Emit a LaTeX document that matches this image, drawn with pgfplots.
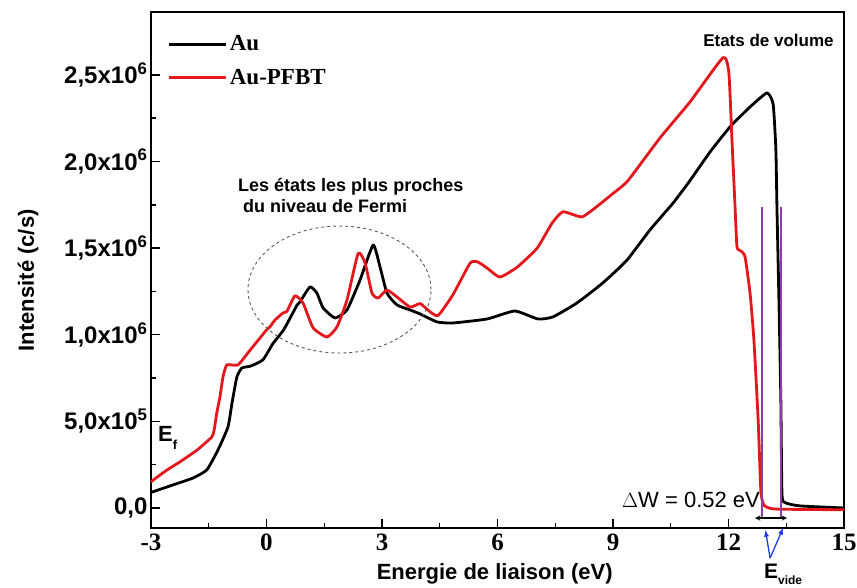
\documentclass[border=0pt]{standalone}
\usepackage{fontspec}
\setmainfont{Liberation Serif}
\newfontfamily\arial{Liberation Sans}
\usepackage{pgfplots}
\pgfplotsset{compat=1.18}

\definecolor{aured}{RGB}{228,24,28}
\definecolor{vidblue}{RGB}{30,60,230}
\definecolor{violetline}{RGB}{140,60,170}

\begin{document}
\begin{tikzpicture}
\begin{axis}[
  scale only axis,
  width=693pt, height=516pt,
  xmin=-3, xmax=15,
  ymin=-0.1155, ymax=2.863,
  clip=false,
  axis line style={line width=1.6pt},
  tick pos=left,
  tick align=inside,
  major tick length=9pt,
  minor tick length=5pt,
  every tick/.style={line width=1.4pt, black},
  xtick={-3,0,3,6,9,12,15},
  xticklabels={-3,0,3,6,9,12,15},
  minor x tick num=1,
  ytick={0,0.5,1,1.5,2,2.5},
  yticklabels={{0,0},{5,0x10\textsuperscript{5}},{1,0x10\textsuperscript{6}},{1,5x10\textsuperscript{6}},{2,0x10\textsuperscript{6}},{2,5x10\textsuperscript{6}}},
  minor y tick num=1,
  xticklabel style={font=\fontsize{25}{25}\selectfont\bfseries, yshift=-2pt},
  yticklabel style={font=\arial\fontsize{24}{24}\selectfont\bfseries},
  xlabel={Energie de liaison (eV)},
  ylabel={Intensité (c/s)},
  xlabel style={at={(axis description cs:0.496,-0.088)}, anchor=center, font=\arial\fontsize{22}{22}\selectfont\bfseries},
  ylabel style={at={(axis description cs:-0.1775,0.48)}, anchor=center, rotate=0, font=\arial\fontsize{22}{22}\selectfont\bfseries},
  legend cell align={left},
  legend style={draw=none, fill=none, at={(axis description cs:0.02,0.962)}, anchor=north west,
    font=\fontsize{23}{23}\selectfont\bfseries, row sep=13pt},
  legend image code/.code={\draw[#1] (0pt,0pt) -- (57pt,0pt);},
  every axis plot/.append style={line width=2.8pt, line join=round},
]
% Au
\addplot[black, smooth, tension=0.3] table {
-3.00 0.090
-2.43 0.133
-1.91 0.173
-1.55 0.220
-1.26 0.335
-1.00 0.468
-0.90 0.600
-0.77 0.756
-0.64 0.808
-0.40 0.820
-0.09 0.856
0.17 0.950
0.45 1.030
0.79 1.170
0.87 1.190
1.13 1.276
1.31 1.240
1.47 1.155
1.78 1.097
2.09 1.143
2.43 1.316
2.77 1.518
2.95 1.390
3.13 1.240
3.39 1.172
3.73 1.143
3.99 1.120
4.43 1.074
4.84 1.068
5.73 1.091
6.45 1.137
7.05 1.091
7.44 1.103
8.06 1.183
8.74 1.300
9.36 1.430
9.96 1.605
10.56 1.760
11.00 1.890
11.52 2.055
12.04 2.200
12.56 2.315
13.00 2.396
13.16 2.330
13.23 2.070
13.26 1.720
13.31 1.200
13.36 0.620
13.39 0.075
13.49 0.029
13.86 0.012
15.00 0.000
};
\addlegendentry{Au}
% Au-PFBT
\addplot[aured, smooth, tension=0.3] table {
-3.00 0.150
-2.95 0.160
-2.58 0.220
-2.25 0.266
-1.80 0.335
-1.42 0.410
-1.36 0.450
-1.29 0.550
-1.21 0.640
-1.13 0.756
-1.03 0.826
-0.74 0.826
-0.43 0.910
0.01 1.030
0.09 1.045
0.22 1.085
0.43 1.126
0.53 1.135
0.74 1.225
0.95 1.183
1.21 1.040
1.57 0.987
1.83 1.045
2.09 1.200
2.38 1.470
2.56 1.414
2.74 1.240
2.90 1.212
3.13 1.258
3.39 1.218
3.73 1.160
3.99 1.180
4.19 1.143
4.45 1.110
4.84 1.230
5.29 1.414
5.49 1.420
5.73 1.385
6.06 1.333
6.51 1.390
7.03 1.500
7.42 1.645
7.70 1.710
8.19 1.680
8.58 1.740
8.97 1.810
9.39 1.890
10.22 2.136
11.00 2.344
11.86 2.600
12.01 2.510
12.09 2.125
12.17 1.740
12.22 1.507
12.32 1.484
12.43 1.450
12.56 1.240
12.66 0.970
12.77 0.510
12.84 0.100
12.92 0.017
13.21 -0.006
15.00 -0.010
};
\addlegendentry{Au-PFBT}
% vacuum level markers
\addplot[violetline, line width=1.5pt, forget plot] coordinates {(12.87,1.74) (12.87,-0.06)};
\addplot[violetline, line width=1.5pt, forget plot] coordinates {(13.36,1.74) (13.36,-0.06)};
\addplot[black, line width=1.3pt, <->, >=stealth, forget plot] coordinates {(12.69,-0.058) (13.52,-0.058)};
\addplot[vidblue, line width=1.3pt, ->, >=latex, forget plot] coordinates {(13.08,-0.289) (12.96,-0.127)};
\addplot[vidblue, line width=1.3pt, ->, >=latex, forget plot] coordinates {(13.08,-0.289) (13.42,-0.115)};

\draw[gray!70!black, line width=0.9pt, dash pattern=on 3pt off 3pt]
  (axis cs:1.896,1.261) ellipse [x radius=91.5pt, y radius=63.5pt];

\node[anchor=base west, font=\arial\fontsize{18}{18}\selectfont\bfseries, inner sep=0pt]
  at (axis cs:-0.74,1.824) {Les états les plus proches};
\node[anchor=base west, font=\arial\fontsize{18}{18}\selectfont\bfseries, inner sep=0pt]
  at (axis cs:-0.61,1.703) {du niveau de Fermi};
\node[anchor=base west, font=\arial\fontsize{17}{17}\selectfont\bfseries, inner sep=0pt]
  at (axis cs:11.34,2.661) {Etats de volume};
\node[anchor=base west, font=\arial\fontsize{22}{22}\selectfont\bfseries, inner sep=0pt]
  at (axis cs:-2.82,0.381) {E\raisebox{-0.35em}{\fontsize{13}{13}\selectfont f}};
\node[anchor=base east, font=\arial\fontsize{22}{22}\selectfont, inner sep=0pt]
  at (axis cs:12.82,0.0) {$\Delta$W = 0.52 eV};
\node[anchor=base west, font=\arial\fontsize{21}{21}\selectfont\bfseries, inner sep=0pt]
  at (axis cs:12.92,-0.405) {E\raisebox{-0.3em}{\fontsize{12}{12}\selectfont vide}};
\end{axis}
\pgfresetboundingbox
\path[use as bounding box] ([shift={(-151pt,-59pt)}]current axis.south west) rectangle ([shift={(13pt,12pt)}]current axis.north east);
\end{tikzpicture}
\end{document}
